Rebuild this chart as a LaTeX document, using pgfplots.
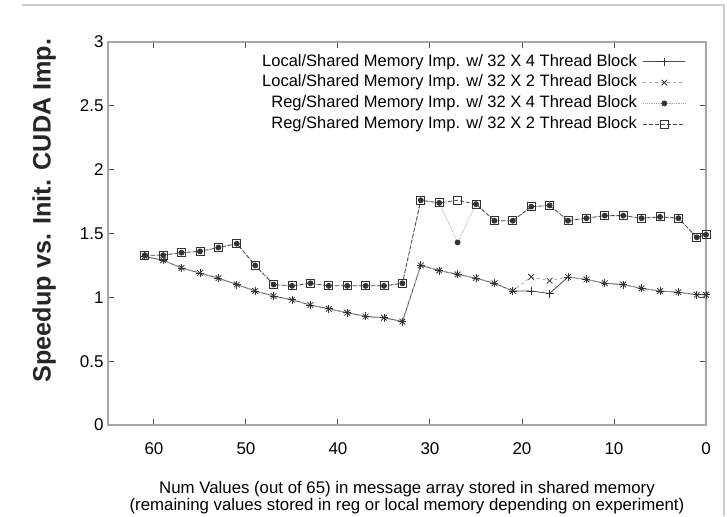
\documentclass[border=0pt]{standalone}
\usepackage{pgfplots}
\pgfplotsset{compat=1.18}
\usepackage{fontspec}
\setmainfont{Liberation Sans}
\begin{document}
\begin{tikzpicture}
\useasboundingbox (0,0) rectangle (727pt,516pt);
\draw[gray!40, line width=2pt] (22pt,511pt) -- (724pt,511pt) -- (724pt,0pt);
\begin{axis}[
  at={(108pt,91pt)}, anchor=south west,
  scale only axis, width=598pt, height=383pt,
  x dir=reverse,
  xmin=0, xmax=65, ymin=0, ymax=3,
  xtick={0,10,20,30,40,50,60},
  ytick={0,0.5,1,1.5,2,2.5,3},
  yticklabels={0,0.5,1,1.5,2,2.5,3},
  /pgf/number format/assume math mode=true,
  tick align=inside,
  major tick length=6pt,
  axis line style={gray!70, line width=1.4pt},
  tick style={gray!60!black, line width=1pt},
  ticklabel style={font=\fontsize{17}{17}\selectfont, text=black},
  xticklabel style={yshift=-14pt},
  yticklabel style={xshift=-1pt},
  xlabel={Num Values (out of 65) in message array stored in shared memory\\(remaining values stored in reg or local memory depending on experiment)},
  xlabel style={align=center, font=\fontsize{16.8}{15.5}\selectfont, text=black, at={(axis description cs:0.5,-0.19)}, anchor=center},
  ylabel={Speedup vs. Init. CUDA Imp.},
  ylabel style={font=\bfseries\fontsize{25.2}{25.2}\selectfont, text=black!85, at={(axis description cs:-0.107,0.56)}, anchor=center, rotate=0},
  legend plot pos=right,
  legend cell align=right,
  legend style={at={(axis description cs:0.9665,0.976)}, anchor=north east, draw=none, fill=none,
    font=\fontsize{16.5}{16.5}\selectfont, text=black,
    row sep=0pt, inner sep=0pt,
    nodes={inner ysep=2pt, inner xsep=6pt, text height=12.8pt, text depth=4pt}},
  legend image code/.code={\draw[mark repeat=2,mark phase=2] plot coordinates {(0pt,0pt) (21pt,0pt) (42pt,0pt)};},
]
% Local/Shared 32x4
\addplot[gray!60!black, line width=0.8pt, mark=+, mark size=4pt, mark options={solid, black!80, line width=0.8pt}] coordinates {
(61,1.32) (59,1.29) (57,1.23) (55,1.19) (53,1.15) (51,1.10) (49,1.05) (47,1.01) (45,0.98) (43,0.94) (41,0.91) (39,0.88) (37,0.85) (35,0.84) (33,0.81)
(31,1.25) (29,1.21) (27,1.18) (25,1.15) (23,1.11) (21,1.05) (19,1.05) (17,1.03) (15,1.16) (13,1.14) (11,1.11) (9,1.10) (7,1.07) (5,1.05) (3,1.04) (1,1.02) (0,1.02)};
\addlegendentry{Local/Shared Memory Imp. w/ 32 X 4 Thread Block}
% Local/Shared 32x2
\addplot[gray!70, line width=0.8pt, dashed, mark=x, mark size=4pt, mark options={solid, black!80, line width=0.8pt}] coordinates {
(61,1.32) (59,1.29) (57,1.23) (55,1.19) (53,1.15) (51,1.10) (49,1.05) (47,1.01) (45,0.98) (43,0.94) (41,0.91) (39,0.88) (37,0.85) (35,0.84) (33,0.81)
(31,1.25) (29,1.21) (27,1.18) (25,1.15) (23,1.11) (21,1.05) (19,1.16) (17,1.13) (15,1.16) (13,1.14) (11,1.11) (9,1.10) (7,1.07) (5,1.05) (3,1.04) (1,1.02) (0,1.02)};
\addlegendentry{Local/Shared Memory Imp. w/ 32 X 2 Thread Block}
% Reg/Shared 32x4
\addplot[gray!70, line width=0.8pt, densely dotted, mark=*, mark size=2.5pt, mark options={solid, black!80}] coordinates {
(61,1.33) (59,1.33) (57,1.35) (55,1.36) (53,1.39) (51,1.42) (49,1.25) (47,1.10) (45,1.09) (43,1.11) (41,1.09) (39,1.09) (37,1.09) (35,1.09) (33,1.11)
(31,1.76) (29,1.74) (27,1.43) (25,1.73) (23,1.60) (21,1.60) (19,1.71) (17,1.72) (15,1.60) (13,1.62) (11,1.64) (9,1.64) (7,1.62) (5,1.63) (3,1.62) (1,1.47) (0,1.49)};
\addlegendentry{Reg/Shared Memory Imp. w/ 32 X 4 Thread Block}
% Reg/Shared 32x2
\addplot[gray!60!black, line width=0.8pt, dash pattern=on 4pt off 2pt, mark=square, mark size=4pt, mark options={solid, black!80, line width=0.9pt}] coordinates {
(61,1.33) (59,1.33) (57,1.35) (55,1.36) (53,1.39) (51,1.42) (49,1.25) (47,1.10) (45,1.09) (43,1.11) (41,1.09) (39,1.09) (37,1.09) (35,1.09) (33,1.11)
(31,1.76) (29,1.74) (27,1.76) (25,1.73) (23,1.60) (21,1.60) (19,1.71) (17,1.72) (15,1.60) (13,1.62) (11,1.64) (9,1.64) (7,1.62) (5,1.63) (3,1.62) (1,1.47) (0,1.49)};
\addlegendentry{Reg/Shared Memory Imp. w/ 32 X 2 Thread Block}
\end{axis}
\end{tikzpicture}
\end{document}
